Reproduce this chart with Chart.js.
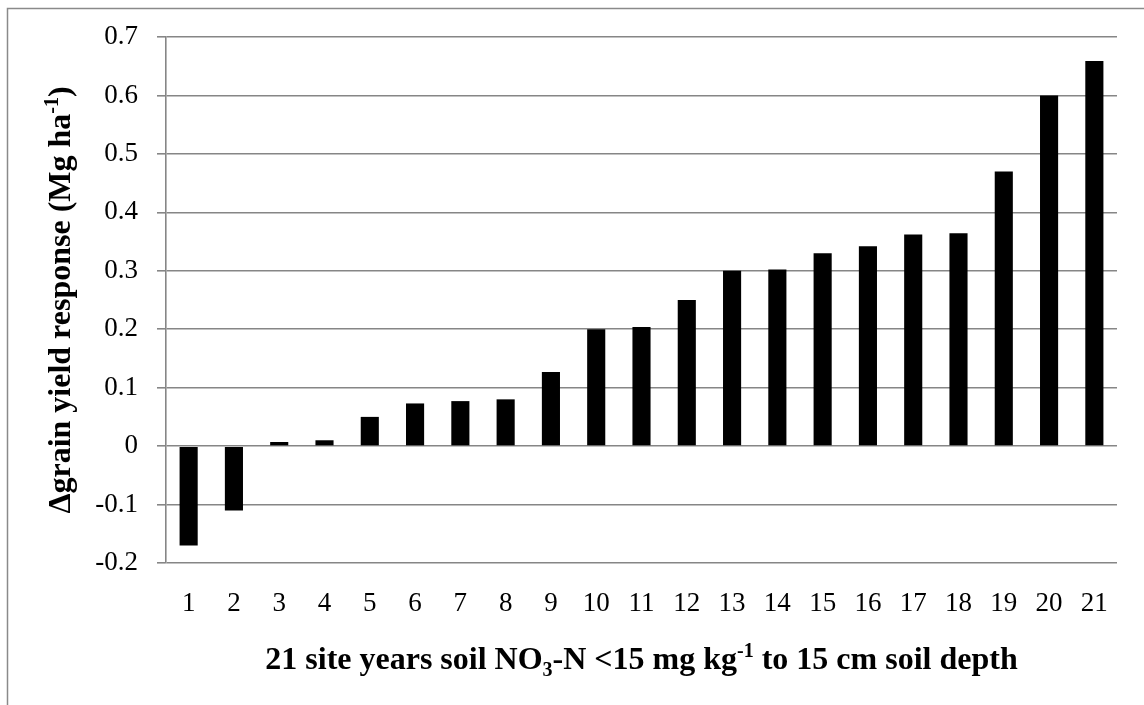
<!DOCTYPE html>
<html>
<head>
<meta charset="utf-8">
<script src="https://cdn.jsdelivr.net/npm/chart.js@4.4.1/dist/chart.umd.min.js"></script>
<style>
  html, body { margin: 0; padding: 0; background: #fff; }
  #wrap { width: 1144px; height: 705px; position: relative; }
</style>
</head>
<body>
<div id="wrap"><canvas id="c" width="1144" height="705"></canvas></div>
<script>
const categories = ["1","2","3","4","5","6","7","8","9","10","11","12","13","14","15","16","17","18","19","20","21"];
const values = [-0.17, -0.11, 0.007, 0.01, 0.05, 0.073, 0.077, 0.08, 0.127, 0.2, 0.204, 0.25, 0.3, 0.302, 0.33, 0.342, 0.362, 0.364, 0.47, 0.6, 0.659];
const yTicks = [-0.2, -0.1, 0, 0.1, 0.2, 0.3, 0.4, 0.5, 0.6, 0.7];
const xTitleParts = [
  {t: "21 site years soil NO"}, {t: "3", sub: true}, {t: "-N <15 mg kg"}, {t: "-1", sup: true}, {t: " to 15 cm soil depth"}
];
const yTitleParts = [
  {t: "\u0394grain yield response (Mg ha"}, {t: "-1", sup: true}, {t: ")"}
];

const SERIF = "'Liberation Serif', 'Times New Roman', serif";
const GRID = '#868686';

function drawRich(ctx, parts, size) {
  const small = Math.round(size * 0.64);
  let total = 0;
  parts.forEach(p => {
    ctx.font = 'bold ' + (p.sub || p.sup ? small : size) + 'px ' + SERIF;
    p.w = ctx.measureText(p.t).width;
    total += p.w;
  });
  let x = -total / 2;
  ctx.textAlign = 'left';
  ctx.textBaseline = 'alphabetic';
  parts.forEach(p => {
    ctx.font = 'bold ' + (p.sub || p.sup ? small : size) + 'px ' + SERIF;
    let dy = 0;
    if (p.sub) dy = size * 0.22;
    if (p.sup) dy = -size * 0.36;
    ctx.fillText(p.t, x, dy);
    x += p.w;
  });
}

const decor = {
  id: 'decor',
  beforeDraw(chart) {
    const ctx = chart.ctx;
    ctx.save();
    ctx.strokeStyle = '#8a8a8a';
    ctx.lineWidth = 1.5;
    ctx.strokeRect(7.5, 8.5, 1400, 900);
    ctx.restore();
  },
  afterDraw(chart) {
    const ctx = chart.ctx;
    const a = chart.chartArea;
    ctx.save();
    ctx.fillStyle = '#000';
    ctx.translate((a.left + a.right) / 2, 669);
    drawRich(ctx, xTitleParts, 32);
    ctx.restore();
    ctx.save();
    ctx.fillStyle = '#000';
    ctx.translate(70, (a.top + a.bottom) / 2);
    ctx.rotate(-Math.PI / 2);
    drawRich(ctx, yTitleParts, 32);
    ctx.restore();
  }
};

new Chart(document.getElementById('c'), {
  type: 'bar',
  data: {
    labels: categories,
    datasets: [{
      data: values,
      backgroundColor: '#000',
      borderWidth: 0,
      categoryPercentage: 1,
      barPercentage: 0.4
    }]
  },
  options: {
    responsive: false,
    animation: false,
    devicePixelRatio: 1,
    layout: { padding: { left: 0, top: 37, right: 27, bottom: 0 } },
    plugins: { legend: { display: false }, tooltip: { enabled: false } },
    scales: {
      x: {
        grid: { display: false, drawTicks: false, tickLength: 0 },
        border: { display: false },
        ticks: { color: '#000', font: { family: SERIF, size: 27 }, padding: 25, maxRotation: 0, autoSkip: false },
        afterFit(s) { s.height = 142; }
      },
      y: {
        min: -0.2, max: 0.7,
        afterBuildTicks(s) { s.ticks = yTicks.map(v => ({ value: v })); },
        grid: { color: GRID, lineWidth: 1.6, tickLength: 9, drawTicks: true },
        border: { display: true, color: GRID, width: 1.6 },
        ticks: {
          color: '#000', font: { family: SERIF, size: 27 }, padding: 19,
          callback: v => (Math.round(v * 10) / 10).toString()
        },
        afterFit(s) { s.width = 166; }
      }
    }
  },
  plugins: [decor]
});
</script>
</body>
</html>
